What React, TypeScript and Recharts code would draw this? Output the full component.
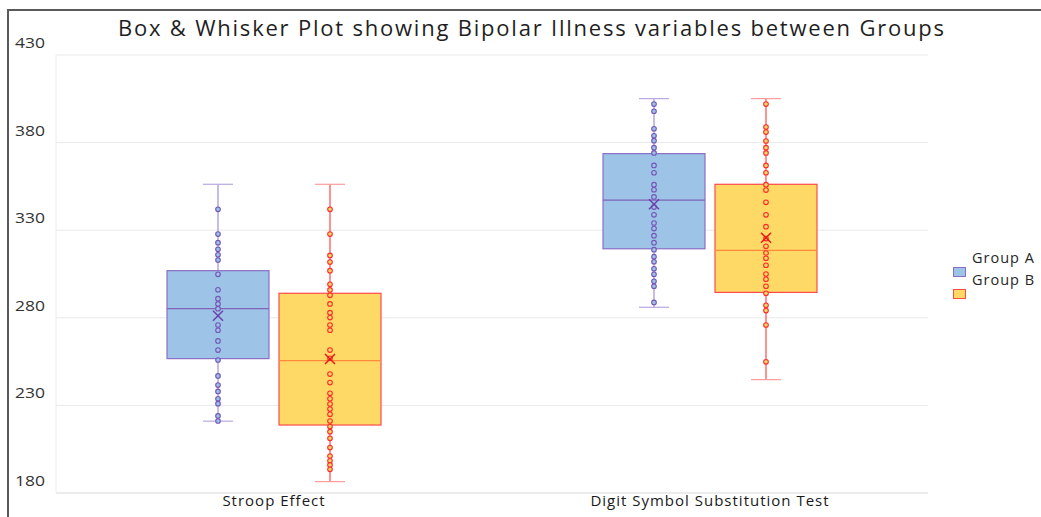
import React from 'react';
import { ComposedChart, Bar, XAxis, YAxis, CartesianGrid } from 'recharts';

const categories = ['Stroop Effect', 'Digit Symbol Substitution Test'];
const yTicks = [180, 230, 280, 330, 380, 430];
const seriesNames = ['Group A', 'Group B'];

// Group A summary per category
const groupAMin = [221, 286];
const groupAQ1 = [256.7, 319.4];
const groupAMedian = [285.2, 347.2];
const groupAQ3 = [306.9, 373.7];
const groupAMax = [356.2, 405.1];
const groupAMean = [281.2, 344.8];

// Group B summary per category
const groupBMin = [186.5, 244.7];
const groupBQ1 = [218.8, 294.5];
const groupBMedian = [255.5, 318.5];
const groupBQ3 = [294, 356.2];
const groupBMax = [356.2, 405.1];
const groupBMean = [256.5, 325.7];

// inner points
const groupAStroop = [341.9, 327.8, 322.9, 319.1, 316, 313, 304.8, 296, 290.9, 287.9, 285.2, 275.9, 272.9, 266.8, 261.6, 255.9, 246.8, 241.6, 238, 233.8, 231, 224, 221.1];
const groupADigit = [402, 397.9, 387.9, 383.9, 381.1, 377.1, 374.1, 367, 362.8, 356, 353.1, 349, 343.2, 338.8, 334.1, 330.9, 326.9, 322.9, 318.9, 314.9, 312, 308, 304.8, 300.8, 298, 288.8];
const groupBStroop = [341.9, 327.8, 315.6, 311.8, 306.9, 299.1, 295.9, 292.8, 287.9, 282.9, 280.1, 275.9, 272.9, 261.6, 256.9, 247.9, 243, 236.9, 233.8, 230.8, 227.9, 224.9, 221.1, 217.9, 215, 211.2, 205.9, 201.1, 198.4, 196, 193.5];
const groupBDigit = [402, 388.9, 386, 380.9, 377.1, 374.1, 367, 362.8, 356, 352.9, 345.9, 338.8, 332, 325.2, 320.8, 317, 314, 310, 305, 302, 298, 294, 287.1, 284.1, 275.9, 254.9];

const groupAPoints = [groupAStroop, groupADigit];
const groupBPoints = [groupBStroop, groupBDigit];

const data = categories.map((name, i) => ({
  name,
  groupA: [groupAQ1[i], groupAQ3[i]],
  groupB: [groupBQ1[i], groupBQ3[i]],
}));

const styleA = {
  fill: '#9dc3e6',
  stroke: '#8a6fc4',
  median: '#8064b8',
  whisker: '#a48fd2',
  cap: '#b9a9e0',
  point: '#7356b8',
  mean: '#6a3fa8',
};
const styleB = {
  fill: '#ffd966',
  stroke: '#ff4a4a',
  median: '#ff8a3d',
  whisker: '#ff4848',
  cap: '#ff9c9c',
  point: '#ff2b2b',
  mean: '#e81515',
};

const makeBox = (min, q1, median, q3, max, mean, points, st) => (props) => {
  const { x, y, width, height, index } = props;
  const top = Math.min(y, y + height);
  const h = Math.abs(height);
  const k = h / (q3[index] - q1[index]);
  const py = (v) => top + (q3[index] - v) * k;
  const cx = x + width / 2;
  const yMean = py(mean[index]);
  return (
    <g>
      <line x1={cx} x2={cx} y1={py(max[index])} y2={py(min[index])} stroke={st.whisker} strokeWidth={1.2} />
      <line x1={cx - 15} x2={cx + 15} y1={py(max[index])} y2={py(max[index])} stroke={st.cap} strokeWidth={1.2} />
      <line x1={cx - 15} x2={cx + 15} y1={py(min[index])} y2={py(min[index])} stroke={st.cap} strokeWidth={1.2} />
      <rect x={x} y={top} width={width} height={h} fill={st.fill} stroke={st.stroke} strokeWidth={1.2} />
      <line x1={x} x2={x + width} y1={py(median[index])} y2={py(median[index])} stroke={st.median} strokeWidth={1.2} />
      {points[index].map((v, j) => (
        <circle key={j} cx={cx} cy={py(v)} r={2.3} fill={st.fill} stroke={st.point} strokeWidth={1.1} />
      ))}
      <line x1={cx - 5} x2={cx + 5} y1={yMean - 5} y2={yMean + 5} stroke={st.mean} strokeWidth={1.4} />
      <line x1={cx - 5} x2={cx + 5} y1={yMean + 5} y2={yMean - 5} stroke={st.mean} strokeWidth={1.4} />
    </g>
  );
};

const boxA = makeBox(groupAMin, groupAQ1, groupAMedian, groupAQ3, groupAMax, groupAMean, groupAPoints, styleA);
const boxB = makeBox(groupBMin, groupBQ1, groupBMedian, groupBQ3, groupBMax, groupBMean, groupBPoints, styleB);

const YTick = ({ y, payload }) => (
  <text
    x={15}
    y={y - 12}
    dy="0.36em"
    fontSize={14}
    fill="#333"
    fontFamily="'Open Sans', sans-serif"
    textLength={30}
    lengthAdjust="spacingAndGlyphs"
  >
    {payload.value}
  </text>
);

const XTick = ({ x, y, payload }) => (
  <text
    x={x}
    y={y}
    dy={5}
    textAnchor="middle"
    fontSize={15}
    letterSpacing={1}
    fill="#1a1a1a"
    fontFamily="'Open Sans', sans-serif"
  >
    {payload.value}
  </text>
);

const Legend = () => {
  const swatches = [styleA, styleB];
  return (
    <div
      style={{
        position: 'absolute',
        left: 945,
        top: 248,
        width: 96,
        height: 56,
        fontFamily: "'Open Sans', sans-serif",
        fontSize: 14.5,
        letterSpacing: 1,
        color: '#262626',
      }}
    >
      {seriesNames.map((n, i) => (
        <React.Fragment key={n}>
          <div style={{ position: 'absolute', left: 27, top: i * 22, lineHeight: '20px', whiteSpace: 'nowrap' }}>{n}</div>
          <div
            style={{
              position: 'absolute',
              left: 8,
              top: 19 + i * 22,
              width: 11,
              height: 8,
              background: swatches[i].fill,
              border: `1px solid ${swatches[i].stroke}`,
            }}
          />
        </React.Fragment>
      ))}
    </div>
  );
};

export default function App() {
  return (
    <div style={{ position: 'absolute', left: 0, top: 0, width: 1041, height: 517, background: '#fff' }}>
      <div style={{ position: 'absolute', left: 7, top: 9, width: 1034, height: 1.5, background: '#5a5a5a' }} />
      <div style={{ position: 'absolute', left: 7, top: 9, width: 1.5, height: 508, background: '#5a5a5a' }} />
      <svg width={1041} height={50} style={{ position: 'absolute', left: 0, top: 0 }}>
        <text
          x={531}
          y={36}
          textAnchor="middle"
          fontSize={22}
          fill="#1f1f1f"
          fontFamily="'Open Sans', sans-serif"
          textLength={826}
          lengthAdjust="spacing"
        >
          Box &amp; Whisker Plot showing Bipolar Illness variables between Groups
        </text>
      </svg>
      <div style={{ position: 'absolute', left: 0, top: 0 }}>
        <ComposedChart
          width={1041}
          height={517}
          data={data}
          margin={{ top: 55, right: 113, left: 55, bottom: 0 }}
          barSize={102}
          barGap={10}
        >
          <CartesianGrid vertical={false} stroke="#e9e9e9" />
          <XAxis
            dataKey="name"
            height={24}
            tickLine={false}
            axisLine={{ stroke: '#e4e4e4' }}
            tick={<XTick />}
            interval={0}
          />
          <YAxis
            type="number"
            domain={[180, 430]}
            ticks={yTicks}
            width={1}
            tickLine={false}
            axisLine={{ stroke: '#ececec' }}
            tick={<YTick />}
          />
          <Bar dataKey="groupA" name={seriesNames[0]} fill={styleA.fill} shape={boxA} isAnimationActive={false} />
          <Bar dataKey="groupB" name={seriesNames[1]} fill={styleB.fill} shape={boxB} isAnimationActive={false} />
        </ComposedChart>
      </div>
      <Legend />
    </div>
  );
}
